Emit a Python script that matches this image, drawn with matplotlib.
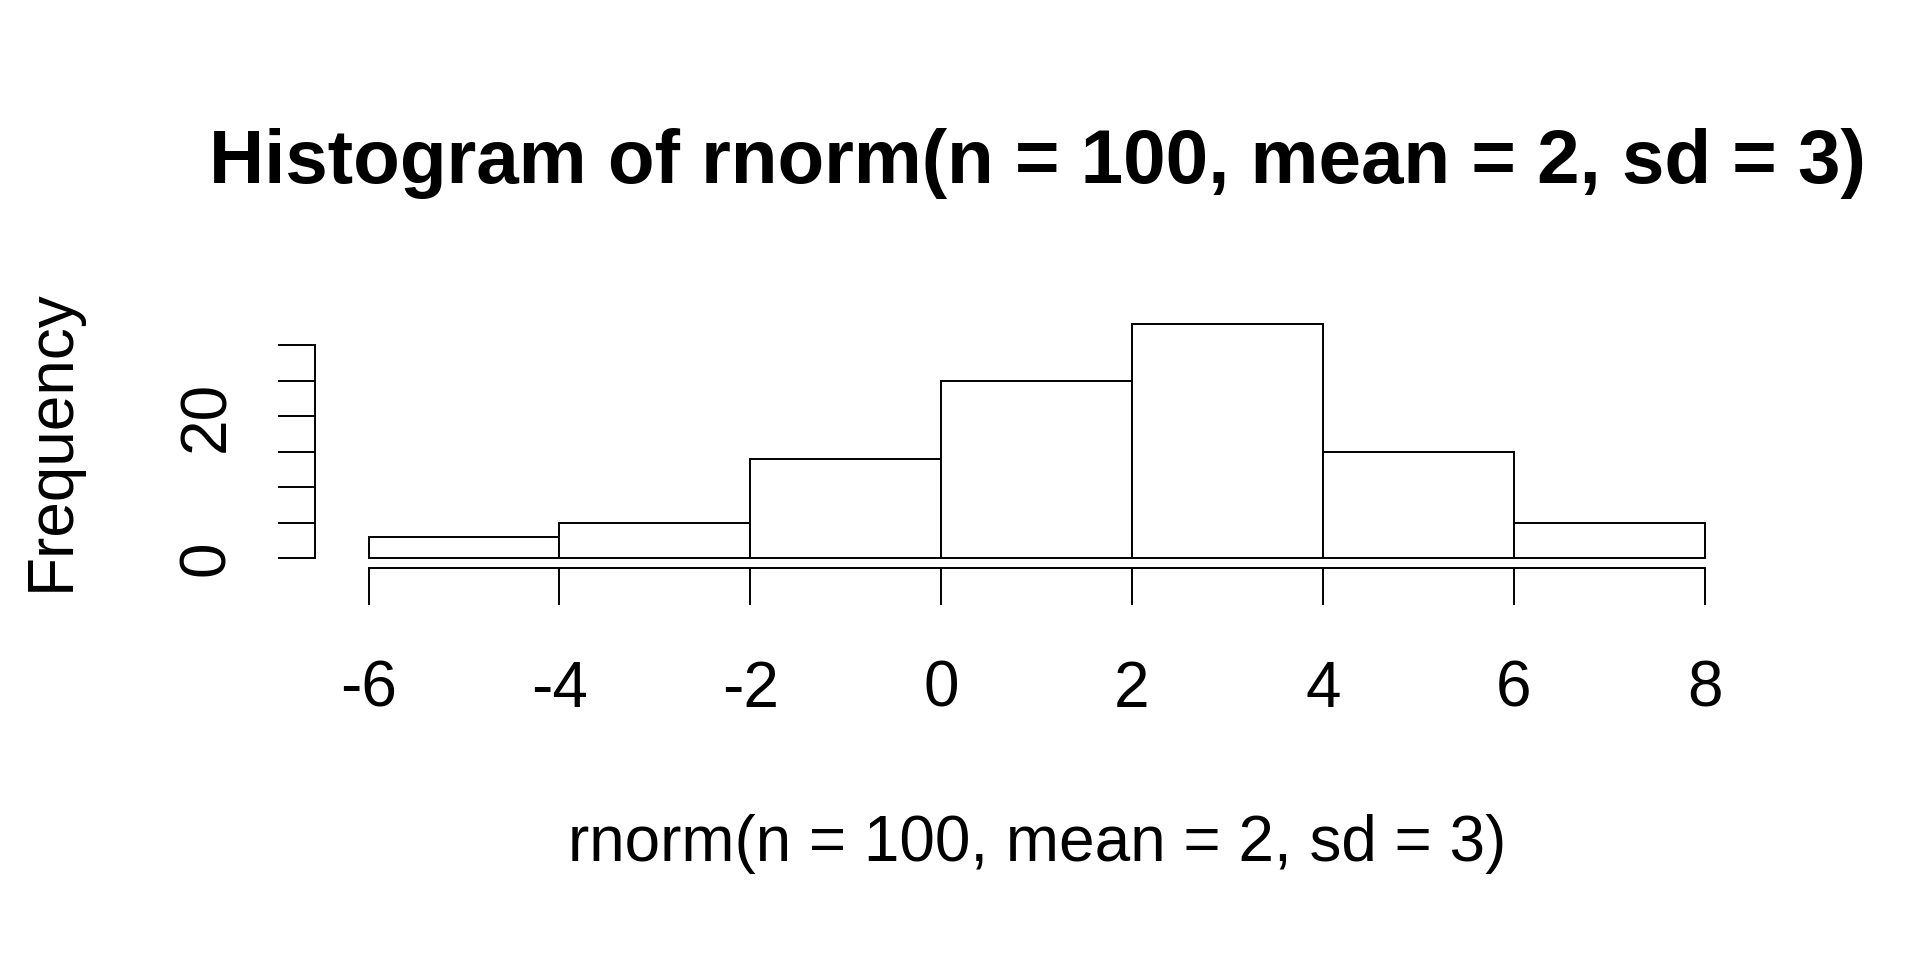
import matplotlib
matplotlib.use("Agg")
import matplotlib.pyplot as plt

# Data
bin_edges = [-6, -4, -2, 0, 2, 4, 6, 8]
counts = [3, 5, 14, 25, 33, 15, 5]
x_ticks = [-6, -4, -2, 0, 2, 4, 6, 8]
y_ticks = [0, 5, 10, 15, 20, 25, 30]
y_tick_labels = ["0", "", "", "", "20", "", ""]
title = "Histogram of rnorm(n = 100, mean = 2, sd = 3)"
xlabel = "rnorm(n = 100, mean = 2, sd = 3)"
ylabel = "Frequency"

plt.rcParams["font.family"] = ["Liberation Sans", "DejaVu Sans"]

W, H = 1920, 960
fig = plt.figure(figsize=(W / 100, H / 100), dpi=100)
fig.patch.set_facecolor("white")

left, right, bottom, top = 315.2, 1758.0, 567.7, 314.6
ax = fig.add_axes([left / W, 1 - bottom / H, (right - left) / W, (bottom - top) / H])
ax.set_facecolor("white")

lw = 1.4
widths = [bin_edges[i + 1] - bin_edges[i] for i in range(len(counts))]
ax.bar(bin_edges[:-1], counts, width=widths, align="edge",
       facecolor="white", edgecolor="black", linewidth=lw)

xr = bin_edges[-1] - bin_edges[0]
ax.set_xlim(bin_edges[0] - 0.04 * xr, bin_edges[-1] + 0.04 * xr)
ymax = max(counts)
ax.set_ylim(-0.04 * ymax, ymax * 1.04)

for s in ["top", "right"]:
    ax.spines[s].set_visible(False)
ax.spines["left"].set_bounds(y_ticks[0], y_ticks[-1])
ax.spines["bottom"].set_bounds(x_ticks[0], x_ticks[-1])
for s in ["left", "bottom"]:
    ax.spines[s].set_linewidth(lw)

ticklen = 37 * 72 / 100
ax.set_xticks(x_ticks)
ax.set_xticklabels([str(t) for t in x_ticks])
ax.set_yticks(y_ticks)
ax.set_yticklabels(y_tick_labels)
ax.tick_params(axis="x", length=ticklen, width=lw, direction="out",
               labelsize=46, pad=102 * 72 / 100 - 0)
ax.tick_params(axis="y", length=ticklen, width=lw, direction="out",
               labelsize=46, pad=54 * 72 / 100)
for lab in ax.get_xticklabels():
    lab.set_va("baseline")
    lab.set_ha("center")
for lab in ax.get_yticklabels():
    lab.set_rotation(90)
    lab.set_rotation_mode("anchor")
    lab.set_ha("center")
    lab.set_va("baseline")

fig.text(1037 / W, 1 - 183 / H, title, ha="center", va="baseline",
         fontsize=55, fontweight="bold")
fig.text(1037 / W, 1 - 861 / H, xlabel, ha="center", va="baseline", fontsize=46)
fig.text(69 / W, 1 - 440 / H, ylabel, ha="center", va="baseline", fontsize=46,
         rotation=90, rotation_mode="anchor")

fig.savefig("out.png", dpi=100, facecolor="white")
